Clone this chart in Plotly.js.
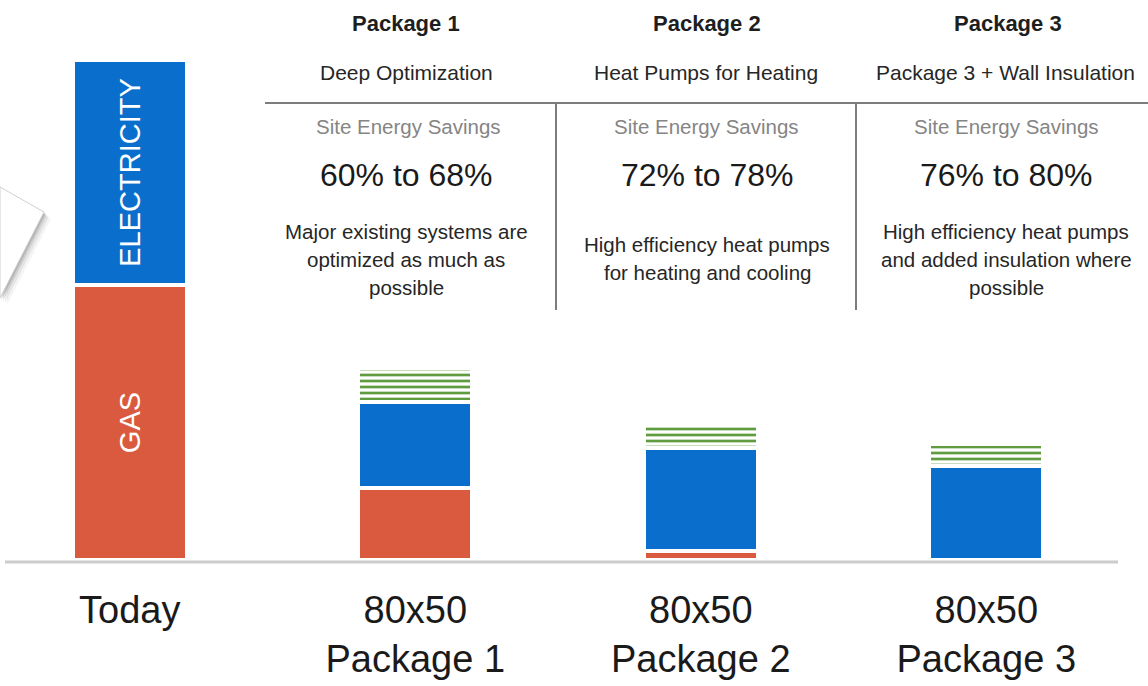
<!DOCTYPE html>
<html>
<head>
<meta charset="utf-8">
<script src="https://cdn.plot.ly/plotly-3.0.1.min.js"></script>
<style>html,body{margin:0;padding:0;background:#fff;}#chart{width:1148px;height:686px;}</style>
</head>
<body>
<div id="chart"></div>
<script>
// ---- data ----
const categories = ['Today', '80x50<br>Package 1', '80x50<br>Package 2', '80x50<br>Package 3'];
const gas = [55, 14.4, 1.8, 0];
const electricity = [45, 17.2, 20.6, 18.8];
const savingsRange = [0, 6.8, 5.0, 4.4];
const gasLabels = ['GAS', '', '', ''];
const electricityLabels = ['ELECTRICITY', '', '', ''];

const packageTitles = ['Package 1', 'Package 2', 'Package 3'];
const packageSubtitles = ['Deep Optimization', 'Heat Pumps for Heating', 'Package 3 + Wall Insulation'];
const savingsHeader = 'Site Energy Savings';
const savingsText = ['60% to 68%', '72% to 78%', '76% to 80%'];
const descriptions = [
  ['Major existing systems are', 'optimized as much as', 'possible'],
  ['High efficiency heat pumps', 'for heating and cooling'],
  ['High efficiency heat pumps', 'and added insulation where', 'possible']
];

// ---- styling ----
const FONT = 'Liberation Sans, Arial, sans-serif';
const W = 1148, PLOT_H = 560;
const px = x => x / W;
const py = y => 1 - y / PLOT_H;

const barLine = {color: '#ffffff', width: 4};
const traces = [
  {type: 'bar', name: 'Gas', x: categories, y: gas, text: gasLabels,
   textposition: 'inside', insidetextanchor: 'middle', textangle: -90, constraintext: 'none',
   insidetextfont: {family: FONT, size: 29, color: '#ffffff'},
   marker: {color: '#da5a3f', line: barLine}, hoverinfo: 'x+y'},
  {type: 'bar', name: 'Electricity', x: categories, y: electricity, text: electricityLabels,
   textposition: 'inside', insidetextanchor: 'middle', textangle: -90, constraintext: 'none',
   insidetextfont: {family: FONT, size: 29, color: '#ffffff'},
   marker: {color: '#0a6fcc', line: barLine}, hoverinfo: 'x+y'},
  {type: 'bar', name: 'Savings range', x: categories, y: savingsRange,
   marker: {color: '#ffffff', line: barLine,
            pattern: {shape: '-', fgcolor: '#5e9c3f', bgcolor: '#ffffff', size: 6, solidity: 0.45, fillmode: 'replace'}},
   hoverinfo: 'x+y'}
];

const cx = [406, 707, 1006];
const annotations = [];
function ann(text, x, y, size, color, bold) {
  annotations.push({xref: 'paper', yref: 'paper', x: px(x), y: py(y), text: bold ? '<b>' + text + '</b>' : text,
    showarrow: false, xanchor: 'center', yanchor: 'middle',
    font: {family: FONT, size: size, color: color}});
}
const titleX = [406, 707, 1008];
const subX = [406, 706, 1005];
packageTitles.forEach((t, i) => ann(t, titleX[i], 24, 22, '#1e1e1e', true));
packageSubtitles.forEach((t, i) => ann(t, subX[i], 72, 21, '#262626', false));
savingsText.forEach((t, i) => {
  ann(savingsHeader, [408, 706, 1006][i], 127, 20.5, '#858585', false);
  ann(t, cx[i], 175, 32, '#1a1a1a', false);
});
descriptions.forEach((lines, i) => {
  const start = lines.length === 3 ? 231 : 244;
  lines.forEach((l, j) => ann(l, cx[i], start + j * 28, 20.5, '#262626', false));
});

const shapes = [];
// left callout shadow + box
const calloutPts = [[0, 187], [44, 212], [0, 298]];
function pathOf(pts, dx, dy) {
  return 'M' + pts.map(p => px(p[0] + dx) + ',' + py(p[1] + dy)).join(' L') + ' Z';
}
[[7, 0.06], [5, 0.1], [3, 0.16], [1.5, 0.22]].forEach(([o, op]) => {
  shapes.push({type: 'path', xref: 'paper', yref: 'paper', path: pathOf(calloutPts, o, o),
    fillcolor: '#555555', opacity: op, line: {width: 0}, layer: 'below'});
});
shapes.push({type: 'path', xref: 'paper', yref: 'paper', path: pathOf(calloutPts, 0, 0),
  fillcolor: '#ffffff', line: {color: '#d0d0d0', width: 1}, layer: 'below'});
// table rules
shapes.push({type: 'line', xref: 'paper', yref: 'paper', x0: px(265), x1: px(1148), y0: py(103), y1: py(103),
  line: {color: '#7d7d7d', width: 2}});
[556, 856].forEach(x => shapes.push({type: 'line', xref: 'paper', yref: 'paper', x0: px(x), x1: px(x),
  y0: py(103), y1: py(310), line: {color: '#7d7d7d', width: 2}}));
// baseline
shapes.push({type: 'line', xref: 'paper', yref: 'paper', x0: px(5), x1: px(1118), y0: py(562), y1: py(562),
  line: {color: '#cccccc', width: 3}});

const layout = {
  width: 1148, height: 686,
  margin: {l: 0, r: 0, t: 0, b: 126, pad: 0},
  paper_bgcolor: '#ffffff', plot_bgcolor: '#ffffff',
  barmode: 'stack', bargap: 0.6, showlegend: false,
  xaxis: {type: 'category', range: [-0.4545, 3.5665], showgrid: false, zeroline: false, showline: false,
    ticks: '', tickfont: {family: FONT, size: 38, color: '#1a1a1a'}, ticklabelstandoff: 24, fixedrange: true},
  yaxis: {range: [0, 112], visible: false, fixedrange: true},
  annotations: annotations,
  shapes: shapes
};

Plotly.newPlot('chart', traces, layout, {displayModeBar: false, staticPlot: true});
</script>
</body>
</html>
